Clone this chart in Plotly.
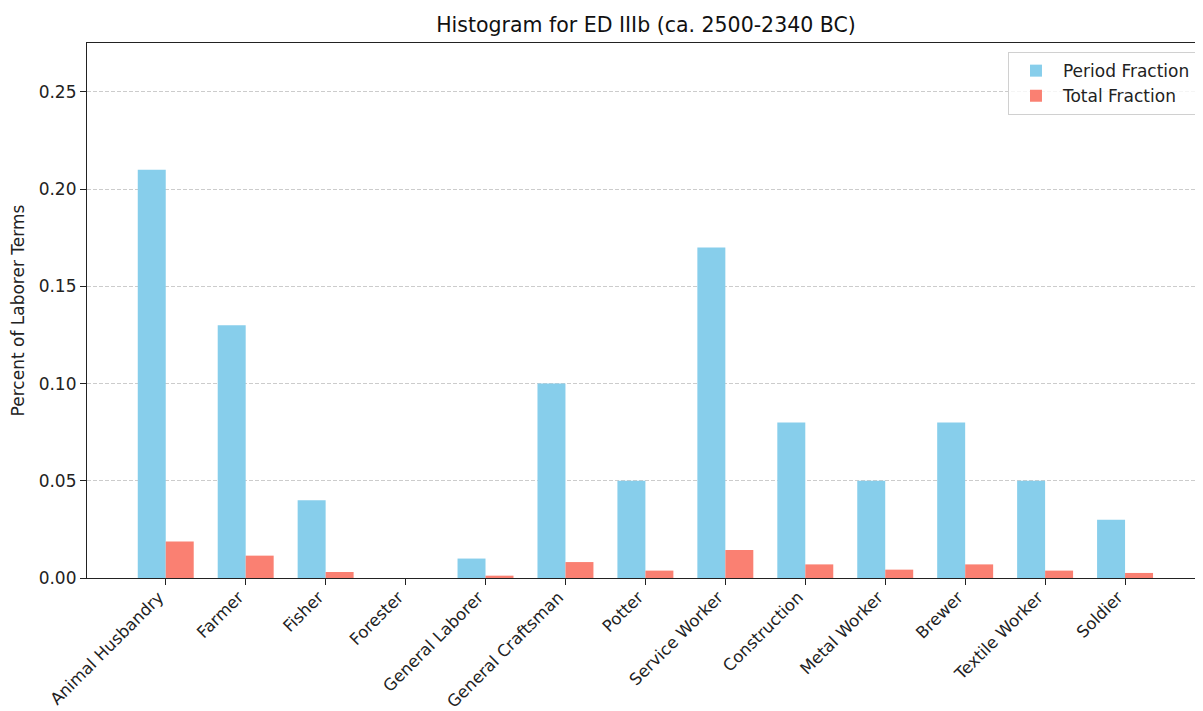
import plotly.graph_objects as go

categories = ["Animal Husbandry", "Farmer", "Fisher", "Forester", "General Laborer",
              "General Craftsman", "Potter", "Service Worker", "Construction",
              "Metal Worker", "Brewer", "Textile Worker", "Soldier"]
period_fraction = [0.21, 0.13, 0.04, 0.0, 0.01, 0.10, 0.05, 0.17, 0.08, 0.05, 0.08, 0.05, 0.03]
total_fraction = [0.0188, 0.0115, 0.0031, 0.0, 0.0012, 0.0082, 0.0038, 0.0144, 0.0070,
                  0.0043, 0.0070, 0.0038, 0.0026]
y_ticks = [0.0, 0.05, 0.10, 0.15, 0.20, 0.25]
y_tick_labels = ["0.00", "0.05", "0.10", "0.15", "0.20", "0.25"]

idx = list(range(len(categories)))
font = "DejaVu Sans, Verdana, sans-serif"

# page body has an 8px margin; compensate so the plot lands where the reference has it
W, H = 1195, 703
L, T, B = 79, 35, 133

fig = go.Figure()
fig.add_trace(go.Bar(x=idx, y=period_fraction, name="Period Fraction",
                     marker=dict(color="#87CEEB", line=dict(width=0))))
fig.add_trace(go.Bar(x=idx, y=total_fraction, name="Total Fraction",
                     marker=dict(color="#FA8072", line=dict(width=0))))

fig.update_layout(
    width=W, height=H,
    margin=dict(l=L, r=0, t=T, b=B, pad=0, autoexpand=False),
    paper_bgcolor="white", plot_bgcolor="white",
    barmode="group", bargap=0.3, bargroupgap=0,
    font=dict(family=font, size=17, color="#222"),
    title=dict(text="Histogram for ED IIIb (ca. 2500-2340 BC)", x=(646 - 8) / W,
               xanchor="center", y=1 - 17 / H, yanchor="middle",
               font=dict(size=20.5, color="#111")),
    legend=dict(x=0.9937, xanchor="right", y=0.983, yanchor="top",
                bordercolor="#d0d0d0", borderwidth=1, bgcolor="rgba(255,255,255,0.8)",
                font=dict(size=17, color="#222"), tracegroupgap=2, itemwidth=44),
    showlegend=True,
)
fig.update_xaxes(
    range=[-0.985, 12.975], tickmode="array", tickvals=idx, ticktext=categories,
    tickangle=-45, ticks="outside", ticklen=6, tickcolor="#222",
    ticklabelshift=-7, ticklabelstandoff=-4,
    showline=True, linecolor="#222", linewidth=1.2, mirror=True,
    showgrid=False, zeroline=False, tickfont=dict(size=16.5, color="#222"),
    automargin=False,
)
fig.update_yaxes(
    range=[0, 0.2752], tickmode="array", tickvals=y_ticks, ticktext=y_tick_labels,
    ticks="outside", ticklen=6, tickcolor="#222",
    showline=True, linecolor="#222", linewidth=1.2,
    showgrid=True, gridcolor="#cccccc", griddash="4px,2px", gridwidth=1,
    zeroline=False, tickfont=dict(size=17, color="#222"),
    title=dict(text="Percent of Laborer Terms", font=dict(size=17, color="#222"), standoff=10),
    automargin=False,
)

fig.write_html("out.html")
